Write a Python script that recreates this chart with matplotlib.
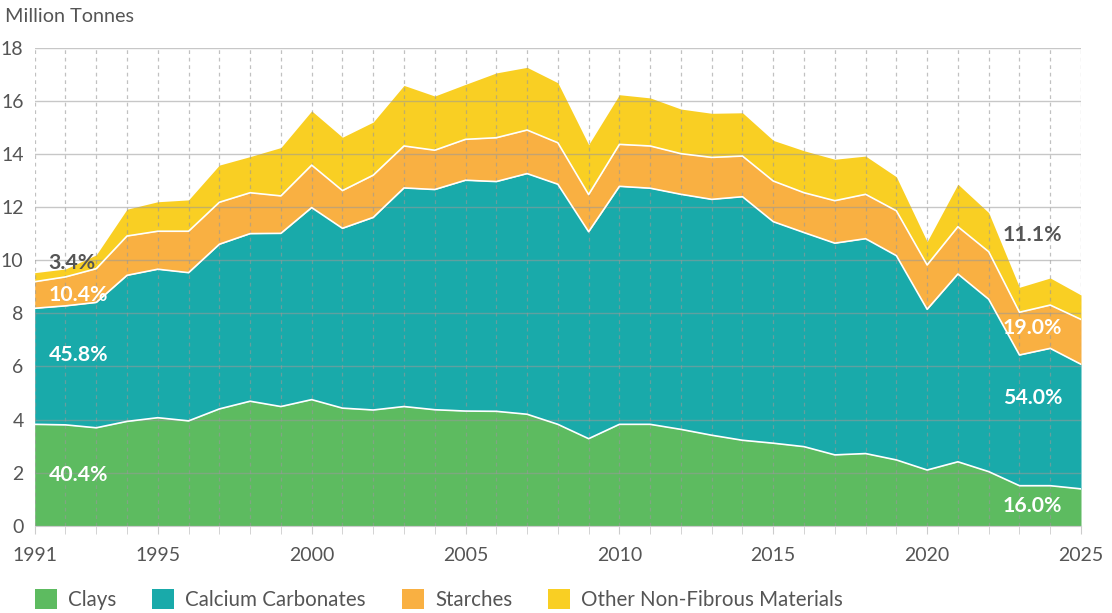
import numpy as np
import matplotlib.pyplot as plt
from matplotlib.patches import Patch
from matplotlib.ticker import MultipleLocator

plt.rcParams['font.family'] = ['Lato', 'DejaVu Sans']

years = np.arange(1991, 2026)

# Million tonnes per year, per material
clays = [3.82, 3.80, 3.69, 3.93, 4.07, 3.95, 4.40, 4.69, 4.49, 4.75,
         4.43, 4.36, 4.49, 4.37, 4.32, 4.31, 4.20, 3.82, 3.28, 3.82,
         3.82, 3.63, 3.41, 3.22, 3.11, 2.98, 2.67, 2.72, 2.48, 2.10,
         2.41, 2.04, 1.51, 1.51, 1.39]
carbonates = [4.37, 4.48, 4.72, 5.50, 5.59, 5.58, 6.20, 6.31, 6.52, 7.23,
              6.77, 7.25, 8.23, 8.29, 8.69, 8.65, 9.06, 9.04, 7.79, 8.96,
              8.89, 8.85, 8.88, 9.17, 8.34, 8.06, 7.97, 8.09, 7.69, 6.05,
              7.07, 6.49, 4.92, 5.17, 4.69]
starches = [1.00, 1.09, 1.27, 1.48, 1.43, 1.56, 1.58, 1.54, 1.41, 1.60,
            1.42, 1.59, 1.58, 1.48, 1.54, 1.65, 1.64, 1.56, 1.40, 1.58,
            1.59, 1.53, 1.58, 1.53, 1.53, 1.50, 1.60, 1.67, 1.69, 1.67,
            1.78, 1.79, 1.61, 1.63, 1.69]
other = [0.34, 0.30, 0.52, 1.01, 1.11, 1.18, 1.40, 1.36, 1.82, 2.04,
         2.01, 2.00, 2.28, 2.04, 2.07, 2.44, 2.36, 2.26, 1.88, 1.87,
         1.81, 1.68, 1.66, 1.63, 1.53, 1.58, 1.56, 1.44, 1.28, 0.88,
         1.60, 1.47, 0.94, 1.02, 0.92]

names = ['Clays', 'Calcium Carbonates', 'Starches', 'Other Non-Fibrous Materials']
colors = ['#5dbb60', '#19aaaa', '#f9b042', '#f9cf23']
xticks = [1991, 1995, 2000, 2005, 2010, 2015, 2020, 2025]

# share labels at the start and end years
start_labels = ['40.4%', '45.8%', '10.4%', '3.4%']
end_labels = ['16.0%', '54.0%', '19.0%', '11.1%']

series = np.array([clays, carbonates, starches, other])
tops = np.cumsum(series, axis=0)
bottoms = np.vstack([np.zeros(len(years)), tops[:-1]])

fig = plt.figure(figsize=(11.12, 6.13), dpi=100)
ax = fig.add_axes([34.7 / 1112, 87.2 / 613, 1046.3 / 1112, 478.1 / 613])

for i in range(4):
    ax.fill_between(years, bottoms[i], tops[i], color=colors[i], lw=0, zorder=1)
# white borders between the layers
for i in range(3):
    ax.plot(years, tops[i], color='white', lw=1.2, zorder=3)

ax.set_xlim(1991, 2025)
ax.set_ylim(0, 18)
ax.set_xticks(xticks)
ax.xaxis.set_minor_locator(MultipleLocator(1))
ax.set_yticks(np.arange(0, 19, 2))

ax.grid(axis='y', color='#999999', lw=1, alpha=0.55, zorder=2)
ax.grid(axis='x', which='both', color='#999999', lw=0.9, ls=(0, (3, 3)), alpha=0.6, zorder=2)
ax.set_axisbelow(False)

for s in ['top', 'right', 'left']:
    ax.spines[s].set_visible(False)
ax.spines['bottom'].set_color('#cccccc')
ax.spines['bottom'].set_zorder(4)

ax.tick_params(axis='x', which='both', length=6, color='#cccccc', pad=9,
               labelsize=14, labelcolor='#555555')
ax.tick_params(axis='y', length=0, pad=8, labelsize=14, labelcolor='#555555')

x0 = 1991.45
for lab, y, c in zip(start_labels, [1.91, 6.43, 8.68, 9.89],
                     ['white', 'white', 'white', '#555555']):
    ax.text(x0, y, lab, color=c, fontsize=15.3, fontweight='bold', va='center', ha='left', zorder=5)
x1 = 2024.4
for lab, y, c in zip(end_labels, [0.75, 4.81, 7.45, 10.94],
                     ['white', 'white', 'white', '#555555']):
    ax.text(x1, y, lab, color=c, fontsize=15.3, fontweight='bold', va='center', ha='right', zorder=5)

fig.text(5 / 1112, 1 - 17 / 613, 'Million Tonnes', fontsize=14.3, color='#555555', va='center')

handles = [Patch(facecolor=c, edgecolor='none') for c in colors]
fig.legend(handles, names, loc='lower left', bbox_to_anchor=(35 / 1112, 3 / 613), ncol=4,
           frameon=False, fontsize=14.8, labelcolor='#555555', handlelength=1.07,
           handleheight=1.07, handletextpad=0.54, columnspacing=1.75,
           borderpad=0, borderaxespad=0)

fig.savefig('out.png', dpi=100)
